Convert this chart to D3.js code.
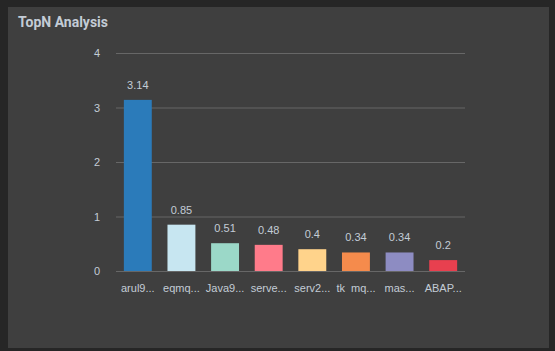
<!DOCTYPE html>
<html>
<head>
<meta charset="utf-8">
<script src="https://cdn.jsdelivr.net/npm/d3@7/dist/d3.min.js"></script>
<style>
  html, body { margin: 0; padding: 0; background: #262626; }
  #chart { width: 555px; height: 351px; }
</style>
</head>
<body>
<div id="chart"></div>
<script>
const categories = ["arul9...", "eqmq...", "Java9...", "serve...", "serv2...", "tk  mq...", "mas...", "ABAP..."]
const values = [3.14, 0.85, 0.51, 0.48, 0.4, 0.34, 0.34, 0.2]
const yTicks = [0, 1, 2, 3, 4]
const colors = ["#2b7bba", "#c7e6f1", "#9bd8c8", "#ff7b8a", "#ffd38b", "#f58b4c", "#8d8cc2", "#e8404f"]

const W = 555
const H = 351
const MARGIN = { TOP: 53, BOTTOM: 80, LEFT: 116, RIGHT: 90 }
const WIDTH = W - MARGIN.LEFT - MARGIN.RIGHT
const HEIGHT = H - MARGIN.TOP - MARGIN.BOTTOM
const TEXT = "#c3ccd6"
const FONT = "'Liberation Sans', Arial, sans-serif"

const svg = d3.select("#chart")
              .append("svg")
              .attr("width", W)
              .attr("height", H)

// panel
svg.append("rect")
   .attr("x", 8)
   .attr("y", 7)
   .attr("width", 541)
   .attr("height", 341)
   .attr("fill", "#3f3f3f")

svg.append("text")
   .attr("x", 18)
   .attr("y", 27)
   .attr("fill", TEXT)
   .style("font-family", "Roboto, sans-serif")
   .style("font-weight", "bold")
   .style("font-size", "14px")
   .text("TopN Analysis")

const g = svg.append("g")
             .attr("transform", `translate(${MARGIN.LEFT}, ${MARGIN.TOP})`)

const x = d3.scaleBand()
            .domain(categories)
            .range([0, WIDTH])
            .paddingInner(0.36)
            .paddingOuter(0.18)

const y = d3.scaleLinear()
            .domain([0, 4])
            .range([HEIGHT, 0])

// grid + y labels
const yAxis = g.append("g")
               .call(d3.axisLeft(y).tickValues(yTicks).tickFormat(d3.format("d")).tickSize(-WIDTH).tickPadding(16))
yAxis.select(".domain").remove()
yAxis.selectAll(".tick line")
     .attr("stroke", "#676767")
     .attr("stroke-width", 1)
yAxis.selectAll(".tick text")
     .attr("fill", TEXT)
     .style("font-family", FONT)
     .style("font-size", "11px")

// x labels
const xAxis = g.append("g")
               .attr("transform", `translate(0, ${HEIGHT})`)
               .call(d3.axisBottom(x).tickSize(0).tickPadding(13))
xAxis.select(".domain").remove()
xAxis.selectAll(".tick text")
     .attr("fill", TEXT)
     .style("font-family", FONT)
     .style("font-size", "11px")
     .style("white-space", "pre")

// bars
g.selectAll(".bar")
 .data(values)
 .enter()
 .append("rect")
 .attr("class", "bar")
 .attr("x", (d, i) => x(categories[i]))
 .attr("y", d => y(d))
 .attr("width", x.bandwidth())
 .attr("height", d => HEIGHT - y(d))
 .attr("fill", (d, i) => colors[i])

// value labels
g.selectAll(".val")
 .data(values)
 .enter()
 .append("text")
 .attr("class", "val")
 .attr("x", (d, i) => x(categories[i]) + x.bandwidth() / 2)
 .attr("y", d => y(d) - 11)
 .attr("text-anchor", "middle")
 .attr("fill", TEXT)
 .style("font-family", FONT)
 .style("font-size", "11px")
 .text(d => d)
</script>
</body>
</html>
